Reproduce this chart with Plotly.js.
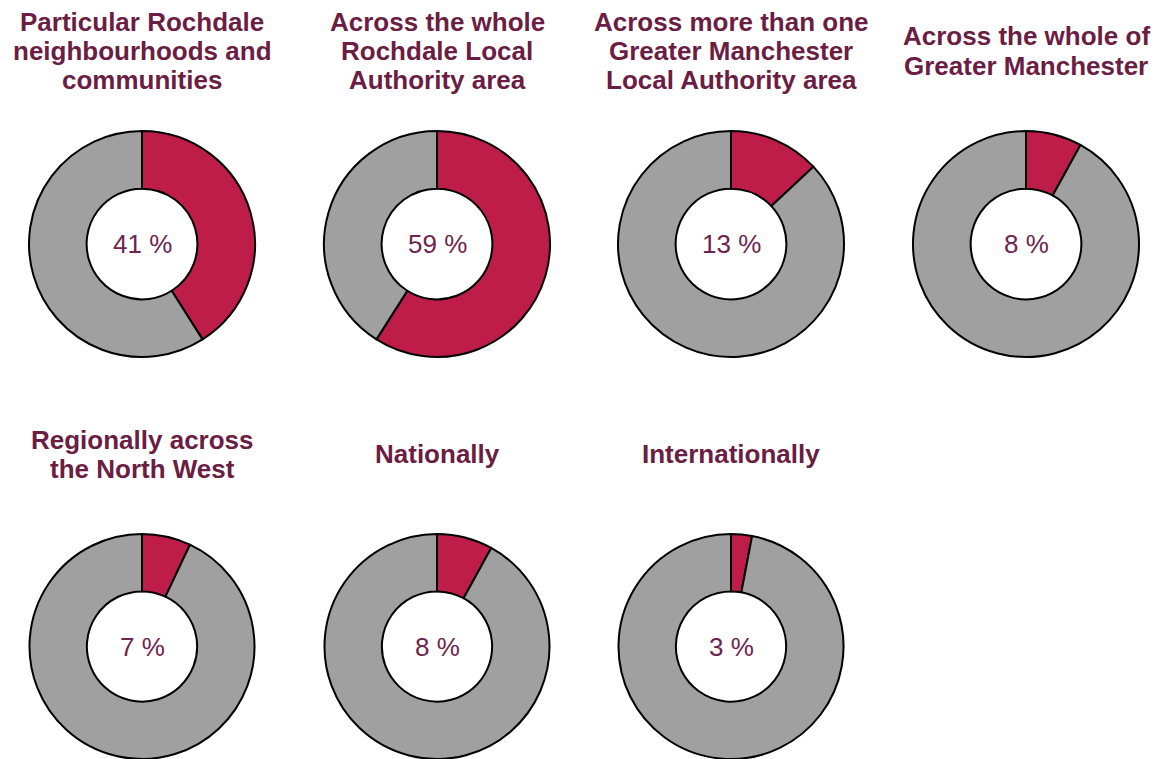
<!DOCTYPE html>
<html>
<head>
<meta charset="utf-8">
<script src="https://cdn.plot.ly/plotly-3.0.1.min.js"></script>
<style>html,body{margin:0;padding:0;background:#fff;}#chart{width:1170px;height:759px;}</style>
</head>
<body>
<div id="chart"></div>
<script>
// Data
const titles = [
  "Particular Rochdale<br>neighbourhoods and<br>communities",
  "Across the whole<br>Rochdale Local<br>Authority area",
  "Across more than one<br>Greater Manchester<br>Local Authority area",
  "Across the whole of<br>Greater Manchester",
  "Regionally across<br>the North West",
  "Nationally",
  "Internationally"
];
const percentages = [41, 59, 13, 8, 7, 8, 3];
const sliceLabels = ["Yes", "No"];

// Layout helpers (pixels)
const W = 1170, H = 759;
const colX = [142, 437, 731, 1026];
const rowY = [244, 647];
const titleY = [51, 454];
const R = 113;
const lineGap = 29;
const redColor = "#BE1D4A";
const greyColor = "#A0A0A0";
const titleColor = "#6B1D43";

const traces = [];
const annotations = [];
percentages.forEach((p, i) => {
  const cx = colX[i % 4], cy = rowY[Math.floor(i / 4)];
  const x0 = (cx - R) / W, x1 = (cx + R) / W;
  const y0 = Math.max(0, 1 - (cy + R) / H), y1 = Math.min(1, 1 - (cy - R) / H);
  traces.push({
    type: "pie",
    values: [p, 100 - p],
    labels: sliceLabels,
    sort: false,
    direction: "clockwise",
    rotation: 0,
    hole: 0.49,
    textinfo: "none",
    hoverinfo: "label+percent",
    showlegend: false,
    marker: {colors: [redColor, greyColor], line: {color: "#000", width: 2}},
    domain: {x: [x0, x1], y: [y0, y1]}
  });
  annotations.push({
    x: cx / W, y: 1 - cy / H, xref: "paper", yref: "paper",
    text: p + " %", showarrow: false,
    font: {family: "Liberation Sans, Arial, sans-serif", size: 26, color: "#6E2450"},
    xanchor: "center", yanchor: "middle"
  });
  const lines = titles[i].split("<br>");
  const ty = titleY[Math.floor(i / 4)];
  lines.forEach((ln, k) => {
    const ly = ty + (k - (lines.length - 1) / 2) * lineGap;
    annotations.push({
      x: cx / W, y: 1 - ly / H, xref: "paper", yref: "paper",
      text: "<b>" + ln + "</b>", showarrow: false,
      font: {family: "Liberation Sans, Arial, sans-serif", size: 26, color: titleColor},
      xanchor: "center", yanchor: "middle"
    });
  });
});

Plotly.newPlot("chart", traces, {
  width: W, height: H,
  margin: {l: 0, r: 0, t: 0, b: 0},
  paper_bgcolor: "#fff",
  annotations: annotations
}, {displayModeBar: false, staticPlot: true});
</script>
</body>
</html>
